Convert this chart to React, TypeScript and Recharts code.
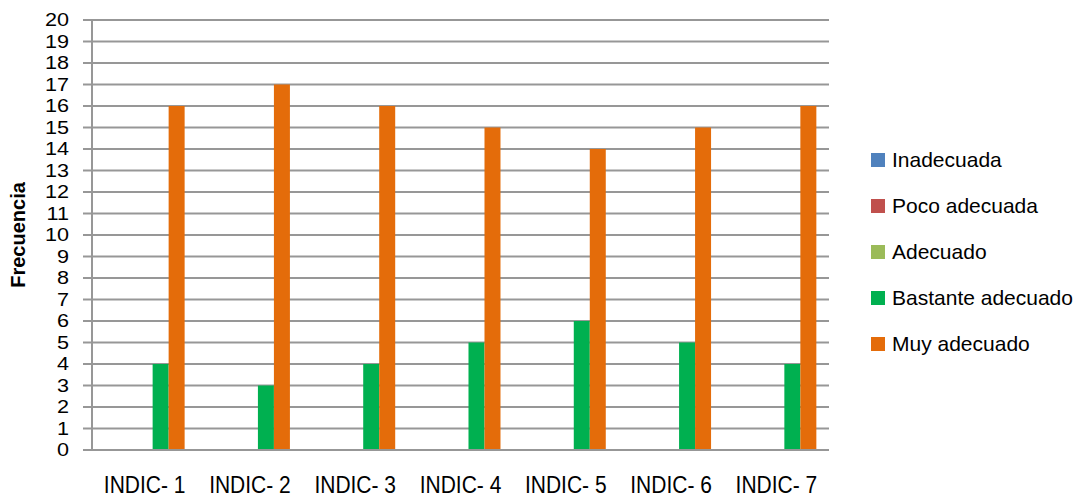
import React from 'react';
import { BarChart, Bar, XAxis, YAxis, CartesianGrid, Label } from 'recharts';

const categories = ['INDIC- 1', 'INDIC- 2', 'INDIC- 3', 'INDIC- 4', 'INDIC- 5', 'INDIC- 6', 'INDIC- 7'];
const inadecuada = [0, 0, 0, 0, 0, 0, 0];
const pocoAdecuada = [0, 0, 0, 0, 0, 0, 0];
const adecuado = [0, 0, 0, 0, 0, 0, 0];
const bastanteAdecuado = [4, 3, 4, 5, 6, 5, 4];
const muyAdecuado = [16, 17, 16, 15, 14, 15, 16];
const yTicks = [0, 1, 2, 3, 4, 5, 6, 7, 8, 9, 10, 11, 12, 13, 14, 15, 16, 17, 18, 19, 20];

const series = [
  { key: 'inadecuada', name: 'Inadecuada', color: '#4F81BD', values: inadecuada },
  { key: 'poco', name: 'Poco adecuada', color: '#C0504D', values: pocoAdecuada },
  { key: 'adecuado', name: 'Adecuado', color: '#9BBB59', values: adecuado },
  { key: 'bastante', name: 'Bastante adecuado', color: '#00B050', values: bastanteAdecuado },
  { key: 'muy', name: 'Muy adecuado', color: '#E46C0A', values: muyAdecuado },
];

const data = categories.map((cat, i) => {
  const row: Record<string, string | number> = { cat };
  series.forEach((s) => {
    row[s.key] = s.values[i];
  });
  return row;
});

const FONT = '"Liberation Sans", Arial, sans-serif';
const GRID = '#979797';

// y tick numbers sit one per gridline, kept small enough not to collide
const YTick = (props: any) => {
  const { x, y, payload } = props;
  return (
    <text
      x={0}
      y={0}
      transform={`translate(${x}, ${y}) scale(1.2, 1)`}
      textAnchor="end"
      dominantBaseline="central"
      fontSize={18}
      fontFamily={FONT}
      fill="#000"
    >
      {payload.value}
    </text>
  );
};

const XTick = (props: any) => {
  const { x, y, payload } = props;
  return (
    <text
      x={0}
      y={0}
      transform={`translate(${x}, ${y}) scale(1, 1.15)`}
      textAnchor="middle"
      dominantBaseline="hanging"
      fontSize={21}
      fontFamily={FONT}
      fill="#000"
    >
      {payload.value}
    </text>
  );
};

const App = () => {
  return (
    <div style={{ position: 'absolute', left: 0, top: 0, width: 1084, height: 500, background: '#fff' }}>
      <BarChart
        width={1084}
        height={500}
        data={data}
        margin={{ top: 20, right: 255, left: 0, bottom: 0 }}
        barCategoryGap="12%"
        barGap={0}
      >
        <CartesianGrid vertical={false} stroke={GRID} strokeWidth={2} />
        <XAxis
          dataKey="cat"
          height={50}
          interval={0}
          axisLine={{ stroke: GRID, strokeWidth: 2 }}
          tickLine={false}
          tick={<XTick />}
          tickMargin={20}
        />
        <YAxis
          width={92}
          domain={[0, 20]}
          ticks={yTicks}
          interval={0}
          axisLine={{ stroke: GRID, strokeWidth: 2 }}
          tickLine={{ stroke: GRID, strokeWidth: 2 }}
          tickSize={9}
          tickMargin={14}
          tick={<YTick />}
        >
          <Label
            value="Frecuencia"
            angle={-90}
            position="insideLeft"
            offset={18}
            style={{ fontSize: 20, fontWeight: 'bold', fill: '#000', fontFamily: FONT, textAnchor: 'middle' }}
          />
        </YAxis>
        {series.map((s) => (
          <Bar key={s.key} dataKey={s.key} name={s.name} fill={s.color} isAnimationActive={false} />
        ))}
      </BarChart>
      <div style={{ position: 'absolute', left: 871, top: 137, fontFamily: FONT }}>
        {series.map((s) => (
          <div
            key={s.key}
            style={{ display: 'flex', alignItems: 'center', height: 46, fontSize: 21, color: '#000' }}
          >
            <div style={{ width: 14, height: 14, backgroundColor: s.color, marginRight: 7 }} />
            <span>{s.name}</span>
          </div>
        ))}
      </div>
    </div>
  );
};

export default App;
